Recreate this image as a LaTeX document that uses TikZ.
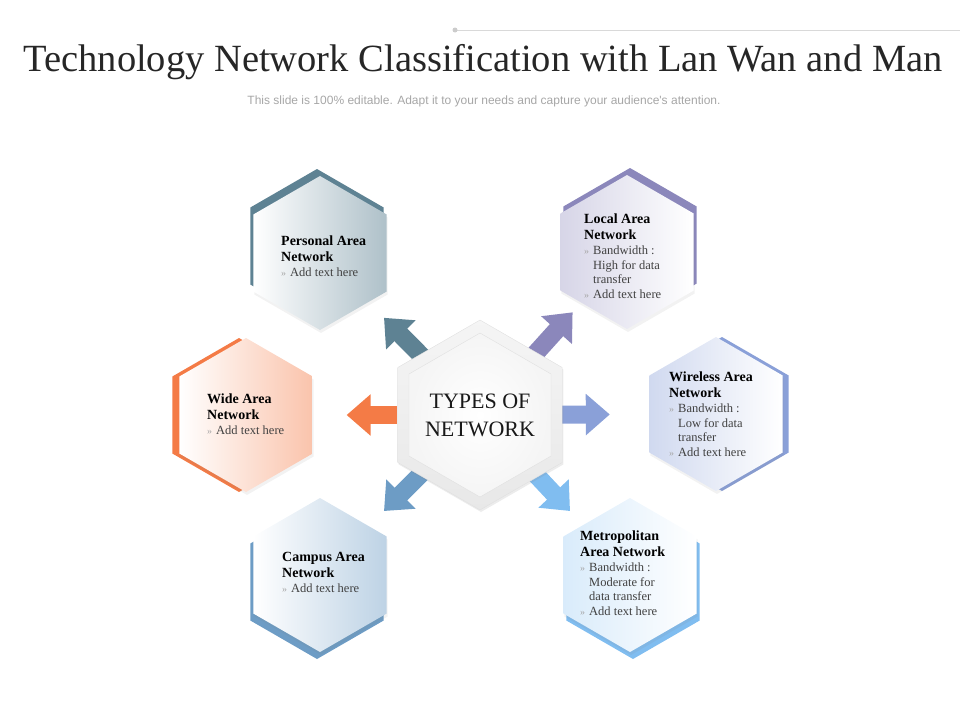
\documentclass[tikz,border=0pt]{standalone}
\usepackage{fontspec}
\setmainfont{Liberation Serif}
\newfontfamily\subfont{Liberation Sans}
\usetikzlibrary{shapes.geometric,arrows.meta,calc,shadows}
\definecolor{panc}{HTML}{5E8293}
\definecolor{lanc}{HTML}{8B87BB}
\definecolor{wanc}{HTML}{F47B46}
\definecolor{wlnc}{HTML}{8AA0D8}
\definecolor{canc}{HTML}{6D9CC5}
\definecolor{manc}{HTML}{80BDF0}
\definecolor{bodyc}{HTML}{404040}
\definecolor{bulc}{HTML}{A6A6A6}
\definecolor{titlec}{HTML}{262626}
\definecolor{subc}{HTML}{A6A6A6}
\newcommand{\blt}{{\color{bulc}\fontsize{10}{10}\selectfont»}}
\tikzset{
  hexa/.style={regular polygon, regular polygon sides=6, shape border rotate=30,
    minimum size=154pt, inner sep=0pt},
  hexfront/.style={hexa, drop shadow={opacity=0.10, shadow xshift=1pt, shadow yshift=-3pt}},
  head/.style={anchor=north west, align=left, inner sep=0pt,
    font=\bfseries\fontsize{14}{16}\selectfont},
  body/.style={anchor=north west, inner sep=0pt, text=bodyc,
    font=\fontsize{12.5}{14.5}\selectfont},
  bigarrow/.style={line width=18pt, draw=#1, -{Triangle[width=40pt,length=24pt]}},
}
\begin{document}
\begin{tikzpicture}[x=1pt,y=-1pt]
\useasboundingbox (0,0) rectangle (960,720);
\coordinate (lstart) at (455,30);
\coordinate (lend) at (960,30);
\draw [line width=1pt, color=black!15] (lstart) -- (lend);
\fill [black!20] (lstart) circle (2.5);
\node [font=\fontsize{38.5}{42}\selectfont, text=titlec] (title) at (483,62) {Technology Network Classification with Lan Wan and Man};
\node [font=\subfont\fontsize{12}{14}\selectfont, text=subc] (sub) at (484,101) {This slide is 100\% editable. Adapt it to your needs and capture your audience's attention.};

\node [hexa, fill=panc] (panb) at (317,246) {};
\node [hexa, fill=lanc] (lanb) at (630,245) {};
\node [hexa, fill=wanc] (wanb) at (239,415) {};
\node [hexa, fill=wlnc] (wlnb) at (722,414) {};
\node [hexa, fill=canc] (canb) at (317,582) {};
\node [hexa, fill=manc] (manb) at (633,582) {};

\node [hexfront, left color=white, right color=panc!50] (pan) at (320,253) {};
\node [hexfront, left color=lanc!35, right color=white] (lan) at (627,252) {};
\node [hexfront, left color=white, right color=wanc!45] (wan) at (246,415) {};
\node [hexfront, left color=wlnc!40, right color=white] (wln) at (716,414) {};
\node [hexfront, left color=white, right color=canc!45] (can) at (320,575) {};
\node [hexfront, left color=manc!30, right color=white] (man) at (630,575) {};

\coordinate (ctr) at (480,415);
\draw [bigarrow=panc] ($(ctr)!0.2!(pan)$) -- ($(ctr)!0.6!(pan)$);
\draw [bigarrow=lanc] ($(ctr)!0.2!(lan)$) -- ($(ctr)!0.63!(lan)$);
\draw [bigarrow=wanc] ($(ctr)!0.2!(wan)$) -- ($(ctr)!0.57!(wan)$);
\draw [bigarrow=wlnc] ($(ctr)!0.2!(wln)$) -- ($(ctr)!0.55!(wln)$);
\draw [bigarrow=canc] ($(ctr)!0.2!(can)$) -- ($(ctr)!0.6!(can)$);
\draw [bigarrow=manc] ($(ctr)!0.2!(man)$) -- ($(ctr)!0.6!(man)$);

\node [hexa, minimum size=190pt, top color=black!4, bottom color=black!9, draw=black!12,
  drop shadow={opacity=0.15, shadow xshift=1pt, shadow yshift=-2pt}] (ctrout) at (ctr) {};
\node [hexa, minimum size=164pt, inner color=white, outer color=black!4, draw=black!12] (ctrin) at (ctr) {};
\node [font=\fontsize{22}{28}\selectfont, align=center, text=black!90] (ctrtxt) at (ctr) {TYPES OF\\NETWORK};

\node [head] (panh) at (281,236) {Personal Area\\Network};
\node [body] (pant) at ($(panh.south west)+(0,4)$) {\begin{tabular}{@{}l@{\hspace{4pt}}l@{}}\blt & Add text here\end{tabular}};

\node [head] (lanh) at (584,214) {Local Area\\Network};
\node [body] (lant) at ($(lanh.south west)+(0,4)$) {\begin{tabular}{@{}l@{\hspace{4pt}}l@{}}\blt & Bandwidth :\\ & High for data\\ & transfer\\ \blt & Add text here\end{tabular}};

\node [head] (wanh) at (207,394) {Wide Area\\Network};
\node [body] (want) at ($(wanh.south west)+(0,4)$) {\begin{tabular}{@{}l@{\hspace{4pt}}l@{}}\blt & Add text here\end{tabular}};

\node [head] (wlnh) at (669,372) {Wireless Area\\Network};
\node [body] (wlnt) at ($(wlnh.south west)+(0,4)$) {\begin{tabular}{@{}l@{\hspace{4pt}}l@{}}\blt & Bandwidth :\\ & Low for data\\ & transfer\\ \blt & Add text here\end{tabular}};

\node [head] (canh) at (282,552) {Campus Area\\Network};
\node [body] (cant) at ($(canh.south west)+(0,4)$) {\begin{tabular}{@{}l@{\hspace{4pt}}l@{}}\blt & Add text here\end{tabular}};

\node [head] (manh) at (580,531) {Metropolitan\\Area Network};
\node [body] (mant) at ($(manh.south west)+(0,4)$) {\begin{tabular}{@{}l@{\hspace{4pt}}l@{}}\blt & Bandwidth :\\ & Moderate for\\ & data transfer\\ \blt & Add text here\end{tabular}};
\end{tikzpicture}
\end{document}
